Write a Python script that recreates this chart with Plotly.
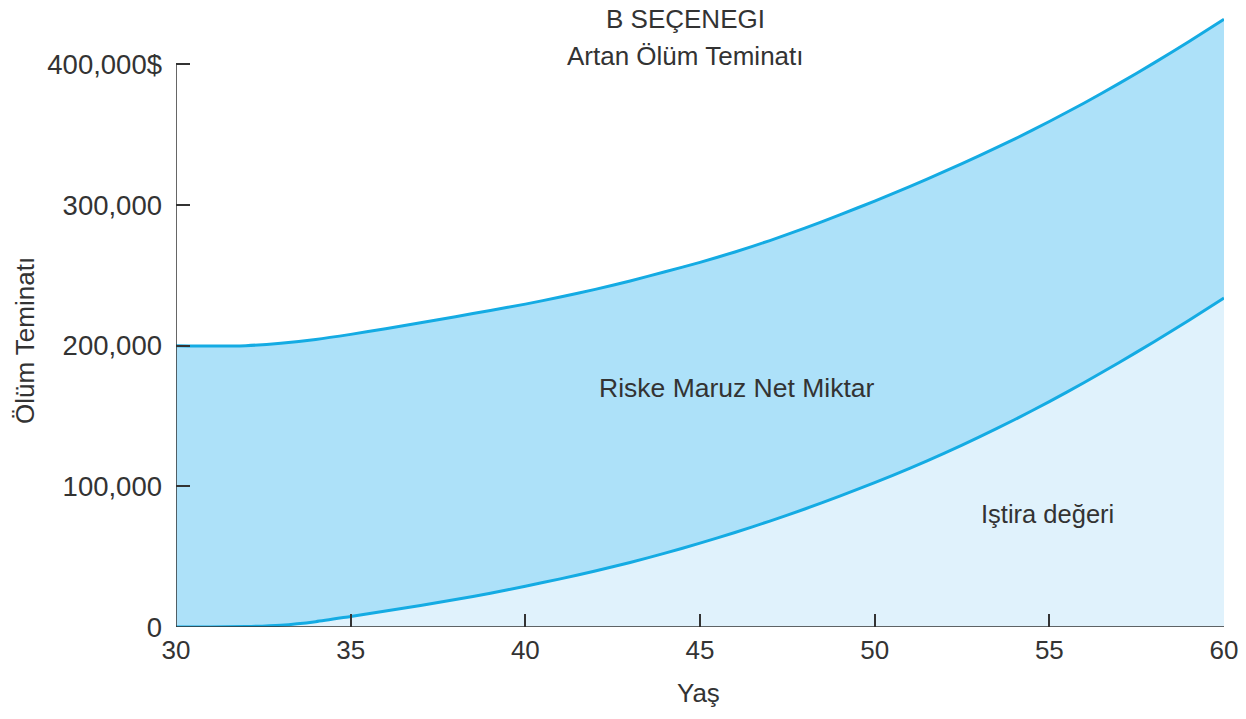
import plotly.graph_objects as go

ages = list(range(30, 61))
olum_teminati = [200, 199.7, 200, 201.7, 204.4, 208, 212, 216.3, 220.6, 225,
                 229.5, 234.6, 240, 246, 252.5, 259.2, 266.6, 274.7, 283.5, 292.9,
                 302.8, 313.1, 323.8, 335, 346.8, 359.3, 372.5, 386.4, 401, 416.2, 432]
istira_degeri = [0, 0, 0.3, 1.3, 3.8, 7.5, 11.3, 15.3, 19.5, 24,
                 29, 34.2, 39.8, 45.9, 52.5, 59.6, 67.2, 75.3, 83.9, 93,
                 102.6, 112.8, 123.6, 135.1, 147.3, 160.2, 173.8, 188, 202.8, 218.1, 233.9]
olum_teminati = [v * 1000 for v in olum_teminati]
istira_degeri = [v * 1000 for v in istira_degeri]

x_ticks = [30, 35, 40, 45, 50, 55, 60]
y_ticks = [0, 100000, 200000, 300000, 400000]
y_tick_labels = ["0", "100,000", "200,000", "300,000", "400,000$"]

LINE = "#14ABE3"
DARK = "#ADE1F9"
LIGHT = "#E0F2FC"
TXT = "#333333"
FONT = "Liberation Sans, Arial, sans-serif"

W, H = 1246, 719
PL, PW = 176, 1048   # plot left / width (px)
PT, PH = 8, 619      # plot top / height (px)

def py(screen_y):
    return (PT + PH - screen_y) / PH

def px(screen_x):
    return (screen_x - PL) / PW

fig = go.Figure()
fig.add_trace(go.Scatter(x=ages, y=istira_degeri, mode="lines",
                         line=dict(color=LINE, width=3, shape="spline", smoothing=0.6),
                         fill="tozeroy", fillcolor=LIGHT, hoverinfo="skip"))
fig.add_trace(go.Scatter(x=ages, y=olum_teminati, mode="lines",
                         line=dict(color=LINE, width=3, shape="spline", smoothing=0.6),
                         fill="tonexty", fillcolor=DARK, hoverinfo="skip"))

fig.update_layout(
    width=W, height=H,
    margin=dict(l=PL, r=W - PL - PW, t=PT, b=H - PT - PH),
    paper_bgcolor="white", plot_bgcolor="white",
    showlegend=False,
    font=dict(family=FONT, size=26, color=TXT),
    xaxis=dict(range=[30, 60], tickvals=x_ticks, ticks="inside", ticklen=13,
               tickwidth=1.5, tickcolor=TXT, showgrid=False, zeroline=False,
               showline=False, ticklabelstandoff=5,
               tickfont=dict(size=26, color=TXT, family=FONT)),
    yaxis=dict(range=[0, 440000], tickvals=y_ticks, ticktext=y_tick_labels,
               ticks="inside", ticklen=14, tickwidth=1.5, tickcolor=TXT,
               showgrid=False, zeroline=False, showline=False,
               ticklabelstandoff=13,
               tickfont=dict(size=27.5, color=TXT, family=FONT)),
)

fig.add_shape(type="line", xref="x", yref="y", x0=30, x1=30, y0=0, y1=400000,
              line=dict(color=TXT, width=1.5), layer="above")
fig.add_shape(type="line", xref="x", yref="y", x0=30, x1=60, y0=0, y1=0,
              line=dict(color=TXT, width=1.5), layer="above")

def ann(text, x, y, xref="paper", yref="paper", angle=0, size=26):
    fig.add_annotation(text=text, x=x, y=y, xref=xref, yref=yref,
                       showarrow=False, textangle=angle,
                       xanchor="center", yanchor="middle",
                       font=dict(family=FONT, size=size, color=TXT))

ann("B SEÇENEGI", px(685), py(19))
ann("Artan Ölüm Teminatı", px(685), py(56))
ann("Riske Maruz Net Miktar", 46.06, 169800, "x", "y", size=26.5)
ann("Iştira değeri", 54.96, 80300, "x", "y", size=25.5)
ann("Yaş", px(698), py(693))
ann("Ölüm Teminatı", px(25), py(341), angle=-90)

fig.write_html("out.html",
               config={"displayModeBar": False},
               post_script="document.body.style.margin='0px';document.body.style.overflow='hidden';")
